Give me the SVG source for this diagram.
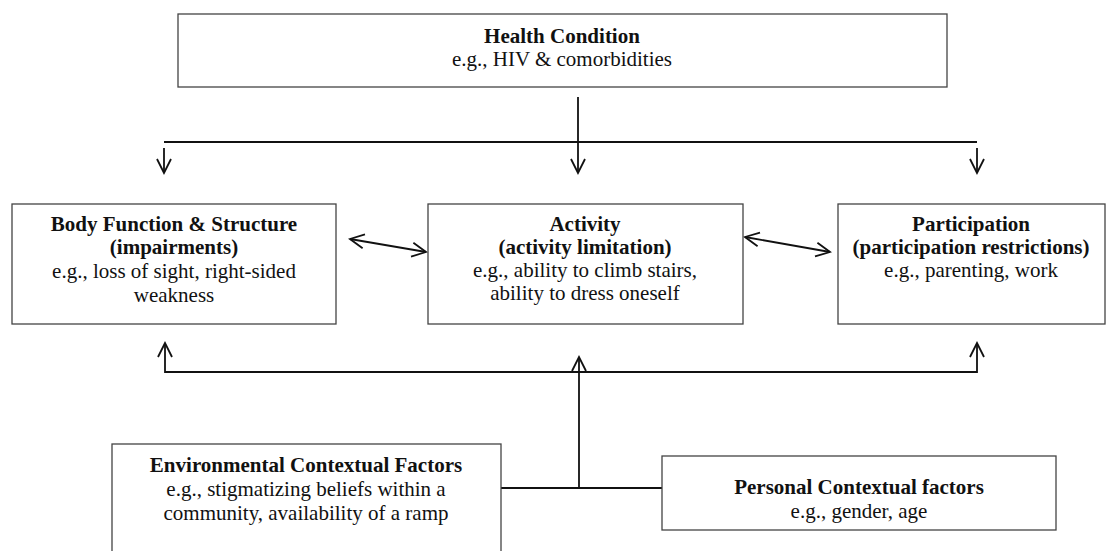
<svg xmlns="http://www.w3.org/2000/svg" width="1107" height="551" viewBox="0 0 1107 551">
<style>
.box{fill:#fff;stroke:#444;stroke-width:1.3}
.t{font-family:"Liberation Serif","Times New Roman",serif;font-size:21px;fill:#111;text-anchor:middle}
.b{font-weight:bold}
.c{fill:none;stroke:#111;stroke-width:1.8}
</style>
<defs>
<marker id="ah" viewBox="-16 -9 18 18" refX="0" refY="0" markerWidth="18" markerHeight="18" markerUnits="userSpaceOnUse" orient="auto-start-reverse">
<path d="M-14,-7 L0,0 L-14,7" fill="none" stroke="#111" stroke-width="1.8"/>
</marker>
</defs>
<rect width="1107" height="551" fill="#fff"/>
<g id="connectors">
<path class="c" d="M578,97 V173" marker-end="url(#ah)"/>
<path class="c" d="M164,142 H977"/>
<path class="c" d="M164,148 V173" marker-end="url(#ah)"/>
<path class="c" d="M977,148 V173" marker-end="url(#ah)"/>
<path class="c" d="M350,239 L426,252" marker-start="url(#ah)" marker-end="url(#ah)"/>
<path class="c" d="M745,237 L830,252" marker-start="url(#ah)" marker-end="url(#ah)"/>
<path class="c" d="M165,343 V372 H977 V343" marker-start="url(#ah)" marker-end="url(#ah)"/>
<path class="c" d="M579,488 V357" marker-end="url(#ah)"/>
<path class="c" d="M501,488 H664"/>
</g>
<g id="health">
<rect class="box" x="178" y="14" width="769" height="73"/>
<text class="t b" x="562" y="43">Health Condition</text>
<text class="t" x="562" y="66">e.g., HIV &amp; comorbidities</text>
</g>
<g id="body">
<rect class="box" x="12" y="204" width="324" height="120"/>
<text class="t b" x="174" y="231">Body Function &amp; Structure</text>
<text class="t b" x="174" y="254">(impairments)</text>
<text class="t" x="174" y="278">e.g., loss of sight, right-sided</text>
<text class="t" x="174" y="302">weakness</text>
</g>
<g id="activity">
<rect class="box" x="428" y="204" width="315" height="120"/>
<text class="t b" x="585" y="231">Activity</text>
<text class="t b" x="585" y="254">(activity limitation)</text>
<text class="t" x="585" y="277">e.g., ability to climb stairs,</text>
<text class="t" x="585" y="300">ability to dress oneself</text>
</g>
<g id="participation">
<rect class="box" x="838" y="204" width="267" height="120"/>
<text class="t b" x="971" y="231">Participation</text>
<text class="t b" x="971" y="254">(participation restrictions)</text>
<text class="t" x="971" y="277">e.g., parenting, work</text>
</g>
<g id="environmental">
<rect class="box" x="112" y="444" width="389" height="120"/>
<text class="t b" x="306" y="472">Environmental Contextual Factors</text>
<text class="t" x="306" y="496">e.g., stigmatizing beliefs within a</text>
<text class="t" x="306" y="520">community, availability of a ramp</text>
</g>
<g id="personal">
<rect class="box" x="662" y="456" width="394" height="74"/>
<text class="t b" x="859" y="494">Personal Contextual factors</text>
<text class="t" x="859" y="518">e.g., gender, age</text>
</g>
</svg>
